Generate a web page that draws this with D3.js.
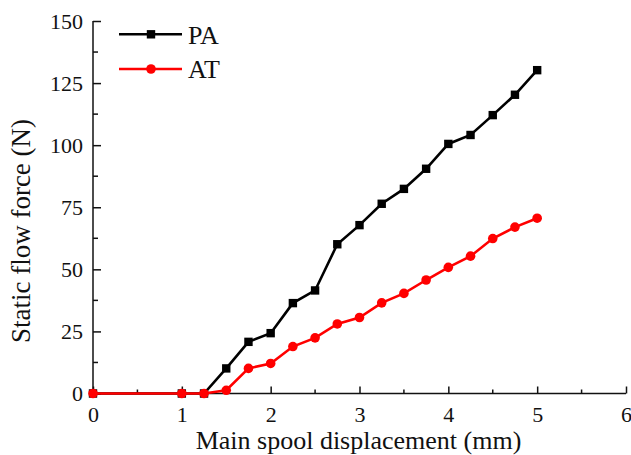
<!DOCTYPE html>
<html><head><meta charset="utf-8">
<script src="https://cdn.jsdelivr.net/npm/d3@7"></script>
<style>body{margin:0;background:#fff;}svg{display:block;}svg text{font-family:"Liberation Serif","Times New Roman",serif;}</style>
</head><body>
<svg id="c" width="631" height="455"></svg>
<script>
const xValues = [0, 1, 1.25, 1.5, 1.75, 2, 2.25, 2.5, 2.75, 3, 3.25, 3.5, 3.75, 4, 4.25, 4.5, 4.75, 5];
const paValues = [0, 0, 0, 10.1, 20.8, 24.3, 36.4, 41.5, 60.1, 67.8, 76.4, 82.4, 90.5, 100.5, 104.1, 112.1, 120.3, 130.2];
const atValues = [0, 0, 0, 1.3, 10.1, 12.1, 18.9, 22.4, 28.0, 30.6, 36.5, 40.3, 45.7, 50.8, 55.3, 62.4, 67.0, 70.6];
const xTicks = [0, 1, 2, 3, 4, 5, 6];
const yTicks = [0, 25, 50, 75, 100, 125, 150];
const seriesNames = ["PA", "AT"];

const svg = d3.select("#c");
const L = 93, R = 626, T = 21, B = 393.5;
const x = d3.scaleLinear().domain([0, 6]).range([L, R]);
const y = d3.scaleLinear().domain([0, 150]).range([B, T]);

const xMinor = d3.range(0.5, 6, 1);
const yMinor = d3.range(12.5, 150, 25);
const serif = '"Liberation Serif","Times New Roman",serif';

const gx = svg.append("g").attr("transform", `translate(0,${B})`);
gx.call(d3.axisBottom(x).tickValues(xTicks).tickSize(-7).tickPadding(13).tickFormat(d3.format("d")));
gx.attr("font-family", serif).attr("font-size", 22);
gx.selectAll(".tick text").style("font-family", serif).attr("font-size", 22).attr("fill", "#111");
gx.selectAll("line").attr("stroke", "#111").attr("stroke-width", 1.5);
gx.select(".domain").attr("stroke", "#111").attr("stroke-width", 1.5).attr("d", `M${L},0H${R}`);
gx.selectAll(".minor").data(xMinor).enter().append("line").attr("x1", d => x(d)).attr("x2", d => x(d))
  .attr("y1", 0).attr("y2", -4).attr("stroke", "#111").attr("stroke-width", 1.5);

const gy = svg.append("g").attr("transform", `translate(${L},0)`);
gy.call(d3.axisLeft(y).tickValues(yTicks).tickSize(-8).tickPadding(10));
gy.attr("font-family", serif).attr("font-size", 22);
gy.selectAll(".tick text").style("font-family", serif).attr("font-size", 22).attr("fill", "#111");
gy.selectAll("line").attr("stroke", "#111").attr("stroke-width", 1.5);
gy.select(".domain").attr("stroke", "#111").attr("stroke-width", 1.5).attr("d", `M0,${T}V${B}`);
gy.selectAll(".minor").data(yMinor).enter().append("line").attr("y1", d => y(d)).attr("y2", d => y(d))
  .attr("x1", 0).attr("x2", 5).attr("stroke", "#111").attr("stroke-width", 1.5);

svg.append("text").attr("x", (L + R) / 2 - 1).attr("y", 449).attr("text-anchor", "middle")
  .attr("font-size", 26).attr("fill", "#111").text("Main spool displacement (mm)");
svg.append("text").attr("transform", `translate(30,231) rotate(-90)`).attr("text-anchor", "middle")
  .attr("font-size", 27).attr("fill", "#111").text("Static flow force (N)");

const line = d3.line().x(d => x(d[0])).y(d => y(d[1]));
const pa = xValues.map((v, i) => [v, paValues[i]]);
const at = xValues.map((v, i) => [v, atValues[i]]);

svg.append("path").datum(pa).attr("d", line).attr("fill", "none").attr("stroke", "#000").attr("stroke-width", 2.6);
svg.selectAll(".sq").data(pa).enter().append("rect")
  .attr("x", d => x(d[0]) - 4.2).attr("y", d => y(d[1]) - 4.2).attr("width", 8.4).attr("height", 8.4).attr("fill", "#000");

svg.append("path").datum(at).attr("d", line).attr("fill", "none").attr("stroke", "#ff0000").attr("stroke-width", 2.6);
svg.selectAll(".ci").data(at).enter().append("circle")
  .attr("cx", d => x(d[0])).attr("cy", d => y(d[1])).attr("r", 4.8).attr("fill", "#ff0000");

const leg = [{name: seriesNames[0], color: "#000", shape: "sq", yy: 34.3, ty: 44.3}, {name: seriesNames[1], color: "#ff0000", shape: "ci", yy: 69, ty: 77.7}];
leg.forEach(l => {
  svg.append("line").attr("x1", 119).attr("x2", 182).attr("y1", l.yy).attr("y2", l.yy).attr("stroke", l.color).attr("stroke-width", 2.6);
  if (l.shape === "sq") svg.append("rect").attr("x", 146.8).attr("y", l.yy - 4.2).attr("width", 8.4).attr("height", 8.4).attr("fill", l.color);
  else svg.append("circle").attr("cx", 151).attr("cy", l.yy).attr("r", 4.8).attr("fill", l.color);
  svg.append("text").attr("x", 188).attr("y", l.ty).attr("font-size", 26).attr("fill", "#111").text(l.name);
});
</script>
</body></html>
